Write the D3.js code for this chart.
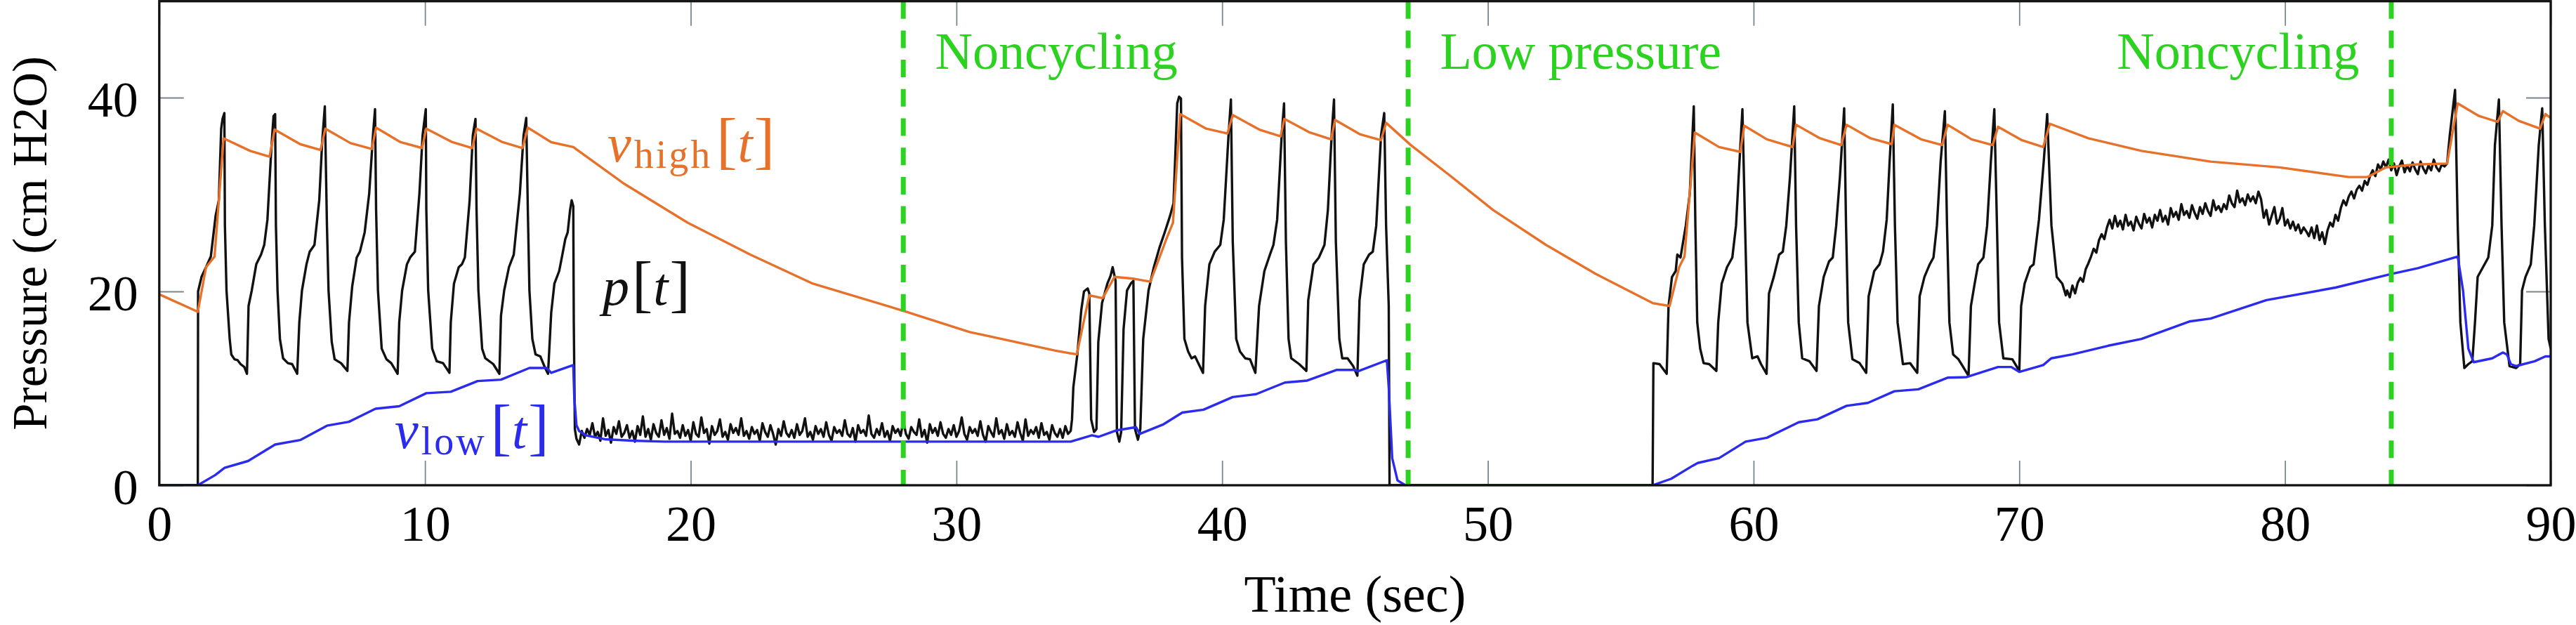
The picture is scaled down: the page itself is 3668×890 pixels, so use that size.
<!DOCTYPE html>
<html><head><meta charset="utf-8">
<script src="https://cdn.jsdelivr.net/npm/d3@7"></script>
<style>
body{margin:0;background:#fff}
svg{display:block}
text{font-family:"Liberation Serif","Times New Roman",serif}
</style>
</head><body>
<svg id="chart" width="3668" height="890"></svg>
<script>
// ---------------- data ----------------
const xTicks = [0, 10, 20, 30, 40, 50, 60, 70, 80, 90];
const yTicks = [0, 20, 40];
const phaseLines = [28, 47, 84];
const phaseLabels = ["Noncycling", "Low pressure", "Noncycling"];
const phaseLabelT = [29.2, 48.2, 82.8];
const phaseLabelAnchor = ["start", "start", "end"];

// upper threshold v_high[t]
const vHigh = [[0,19.7],[1.45,17.9],[1.76,22.5],[2.08,23.6],[2.42,35.8],[3.42,34.5],[4.15,33.9],[4.34,36.7],[5.3,35.2],[6.07,34.6],[6.25,36.8],[7.2,35.3],[8.0,34.7],[8.16,36.9],[9.08,35.4],[9.89,34.8],[10.05,36.8],[11.03,35.4],[11.78,34.8],[11.94,36.8],[12.92,35.4],[13.67,34.8],[13.87,36.9],[14.75,35.4],[15.58,34.9],[17.5,31.1],[19.88,27.1],[22.24,23.8],[24.6,20.8],[28.0,18.0],[30.5,15.8],[31.03,15.5],[33.7,13.9],[34.53,13.5],[35.0,19.6],[35.5,19.3],[35.95,21.5],[36.7,21.3],[37.3,21.0],[37.9,25.4],[38.15,27.1],[38.42,38.3],[39.4,36.8],[40.2,36.3],[40.4,38.2],[41.4,36.7],[42.2,36.0],[42.34,37.8],[43.3,36.4],[44.1,35.7],[44.25,37.7],[45.2,36.2],[45.98,35.6],[46.17,37.4],[47.1,35.1],[48.6,31.9],[50.2,28.4],[52.19,24.8],[54.07,21.8],[56.2,18.8],[56.84,18.5],[57.2,22.5],[57.4,23.6],[57.79,36.4],[58.7,34.9],[59.5,34.4],[59.65,37.1],[60.5,35.7],[61.47,34.9],[61.6,37.2],[62.5,35.8],[63.3,35.1],[63.5,37.2],[64.4,35.8],[65.2,35.2],[65.3,37.2],[66.3,35.7],[67.1,35.1],[67.3,37.2],[68.2,35.7],[69.0,35.1],[69.2,37.0],[70.1,35.6],[70.9,34.9],[71.15,37.3],[72.6,35.8],[74.6,34.5],[77.2,33.4],[79.8,32.8],[82.4,31.8],[83.1,31.8],[83.8,32.8],[84.9,33.1],[86.1,33.2],[86.5,39.4],[87.3,38.1],[88.0,37.5],[88.2,38.6],[88.8,37.6],[89.6,36.8],[89.8,38.3],[90,37.9]];

// lower threshold v_low[t]
const vLow = [[0,0],[1.45,0],[2.1,1.04],[2.46,1.8],[3.34,2.5],[4.36,4.2],[5.3,4.66],[6.31,6.15],[7.14,6.55],[8.14,7.9],[9.03,8.15],[10.05,9.5],[10.97,9.65],[11.98,10.75],[12.86,10.9],[13.93,12.1],[14.58,12.1],[14.75,11.6],[15.58,12.4],[15.62,9.0],[15.7,6.2],[15.8,5.6],[16.05,5.15],[16.76,4.75],[17.8,4.6],[19.0,4.5],[34.3,4.5],[35.1,5.15],[35.35,5.0],[36.0,5.65],[36.76,6.0],[36.9,5.3],[37.8,6.3],[38.5,7.5],[39.3,7.8],[40.4,9.1],[41.28,9.4],[42.36,10.6],[43.2,10.8],[44.3,11.9],[45.0,11.9],[45.1,11.75],[46.2,12.9],[46.27,10.1],[46.4,2.8],[46.6,0.5],[46.9,0],[56.2,0],[56.9,0.67],[57.7,2.0],[57.9,2.3],[58.7,2.8],[59.7,4.5],[60.5,4.9],[61.7,6.5],[62.4,6.8],[63.5,8.2],[64.3,8.5],[65.3,9.7],[66.2,9.9],[67.3,11.1],[68.0,11.15],[69.2,12.2],[69.7,12.2],[70.0,11.7],[70.9,12.4],[71.2,13.1],[72.0,13.5],[73.35,14.4],[74.6,15.1],[76.4,16.9],[77.2,17.2],[79.3,19.1],[81.9,20.4],[84.0,21.8],[85.0,22.4],[86.5,23.6],[86.7,20.1],[86.9,14.1],[87.1,12.7],[87.8,13.1],[88.2,13.7],[88.35,13.5],[88.5,12.5],[88.7,12.3],[89.4,12.8],[89.8,13.3],[90,13.3]];

// measured pressure p[t]: breathing segments
const pBreaths1 = [[0,0],[1.45,0],[1.46,20.0],[1.59,21.5],[1.76,22.5],[1.94,23.6],[2.12,27.8],[2.24,29.4],[2.33,36.8],[2.38,37.8],[2.45,38.4],[2.47,26.8],[2.53,20.1],[2.65,15.1],[2.71,13.5],[2.83,13.0],[2.95,12.9],[3.06,12.5],[3.2,12.2],[3.3,11.5],[3.36,18.5],[3.48,20.1],[3.65,22.8],[3.83,23.8],[3.95,24.8],[4.07,27.4],[4.19,33.4],[4.25,36.1],[4.3,38.1],[4.36,38.3],[4.39,26.8],[4.45,20.1],[4.54,15.1],[4.66,13.1],[4.84,12.6],[5.0,12.5],[5.19,11.5],[5.27,16.8],[5.37,20.1],[5.54,22.8],[5.66,24.1],[5.84,24.8],[6.02,29.4],[6.13,35.4],[6.23,39.1],[6.31,26.8],[6.37,20.1],[6.49,14.8],[6.6,13.0],[6.84,12.6],[7.08,11.8],[7.14,16.8],[7.26,20.5],[7.43,23.5],[7.55,24.1],[7.73,26.1],[7.9,30.1],[8.05,36.4],[8.12,38.8],[8.16,28.4],[8.23,20.1],[8.37,14.1],[8.55,13.0],[8.73,12.6],[8.97,11.5],[9.03,16.8],[9.14,20.1],[9.32,22.8],[9.44,23.5],[9.62,24.1],[9.79,30.1],[9.91,36.1],[10.03,38.8],[10.05,28.4],[10.12,20.1],[10.27,14.1],[10.44,12.8],[10.68,12.6],[10.92,11.6],[10.97,16.8],[11.09,20.8],[11.27,22.5],[11.39,22.8],[11.5,23.5],[11.68,29.4],[11.8,36.1],[11.9,37.8],[11.94,28.4],[12.01,20.1],[12.15,14.1],[12.27,13.1],[12.57,12.5],[12.8,11.5],[12.86,17.5],[12.98,20.1],[13.16,22.5],[13.34,23.8],[13.57,30.1],[13.71,36.1],[13.81,37.9],[13.87,28.4],[13.93,20.1],[14.04,15.1],[14.16,13.5],[14.34,13.3],[14.52,12.1],[14.63,11.5],[14.75,17.8],[14.87,20.8],[15.05,22.1],[15.17,23.8],[15.28,25.4],[15.37,26.1],[15.46,28.4],[15.52,29.4],[15.58,28.8],[15.6,16.8],[15.64,5.8],[15.7,4.8]];

// p[t] noisy plateau, samples every 0.1 s from 15.8 s
const pNoiseA = [
4.2,5.6,4.9,5.8,5.2,6.4,5.0,5.5,4.6,6.9,5.1,5.7,4.4,6.0,5.3,6.6,5.0,5.4,6.2,4.9,
5.6,4.5,6.1,5.2,7.1,5.0,5.8,4.7,6.3,5.4,5.0,6.7,5.2,5.9,4.8,7.4,5.3,5.6,4.9,6.2,
5.1,5.7,4.6,6.5,5.3,5.0,7.0,5.4,5.8,4.3,6.1,5.2,5.6,6.8,5.0,5.5,4.7,6.3,5.4,5.9,
5.2,6.9,5.1,5.6,4.8,6.0,5.3,5.7,4.6,6.4,5.5,5.0,6.2,5.3,4.2,5.8,5.1,6.6,5.4,5.0,
5.7,4.9,6.3,5.2,5.6,6.9,5.0,5.5,4.7,6.1,5.3,5.8,5.0,6.5,5.2,4.6,6.0,5.4,5.7,5.1,
6.7,5.3,5.0,5.9,4.5,6.2,5.4,5.7,5.1,7.2,5.3,4.9,5.8,5.2,6.4,5.0,5.6,4.6,6.1,5.4,
5.8,5.1,6.6,5.3,4.8,6.0,5.5,5.2,6.8,5.0,5.7,4.4,6.3,5.4,5.9,5.1,6.5,5.3,4.9,5.8,
5.2,6.2,5.0,5.6,7.0,5.3,4.7,6.0,5.4,5.8,5.1,6.6,5.2,4.5,6.1,5.5,5.0,6.9,5.3,5.7,
4.8,6.3,5.2,5.6,5.0,6.5,5.4,4.6,6.8,5.1,5.7,5.3,6.0,4.9,6.4,5.2,5.5,4.7,6.2,5.4,
5.0,5.8,4.9,6.1,5.3,5.6];
const pNoiseAStart = 15.8;

const pBreaths2 = [[34.35,6.8],[34.4,10.1],[34.55,13.5],[34.7,18.1],[34.8,20.0],[34.94,20.3],[35.0,19.8],[35.07,6.8],[35.18,5.5],[35.27,5.8],[35.34,14.8],[35.48,18.8],[35.68,20.8],[35.8,21.6],[35.88,22.5],[35.99,21.1],[36.04,5.5],[36.13,4.5],[36.2,5.5],[36.29,16.1],[36.42,20.1],[36.56,20.8],[36.66,21.1],[36.72,5.8],[36.83,4.7],[36.92,5.8],[37.03,15.1],[37.23,20.1],[37.43,22.5],[37.64,24.5],[37.84,26.1],[38.04,27.8],[38.17,29.1],[38.31,39.4],[38.38,40.1],[38.45,39.9],[38.49,23.5],[38.58,15.1],[38.72,13.8],[38.85,13.1],[38.98,13.3],[39.12,12.5],[39.28,11.6],[39.36,18.5],[39.52,22.8],[39.72,24.1],[39.93,24.8],[40.06,27.4],[40.24,36.1],[40.33,39.8],[40.4,25.1],[40.53,15.1],[40.67,13.8],[40.87,13.1],[41.05,13.0],[41.25,11.6],[41.39,18.5],[41.59,22.1],[41.8,23.8],[41.93,24.8],[42.07,27.4],[42.24,36.1],[42.33,39.4],[42.4,25.1],[42.5,15.1],[42.6,13.1],[42.9,12.5],[43.17,11.8],[43.24,19.1],[43.44,22.8],[43.64,23.5],[43.85,24.8],[43.98,28.4],[44.12,36.1],[44.21,39.8],[44.28,25.1],[44.41,15.1],[44.52,13.1],[44.72,13.1],[44.93,12.3],[45.09,11.3],[45.17,19.1],[45.33,22.8],[45.53,23.8],[45.67,24.1],[45.8,26.8],[45.98,36.1],[46.1,38.4],[46.17,26.8],[46.27,18.5],[46.3,0],[56.2,0],[56.23,12.6],[56.46,12.5],[56.73,11.5],[56.8,18.5],[56.93,21.5],[57.07,22.1],[57.13,23.8],[57.25,23.5],[57.45,26.8],[57.6,30.1],[57.75,39.1],[57.81,26.8],[57.88,16.8],[57.99,14.1],[58.12,12.6],[58.33,12.5],[58.6,11.8],[58.67,16.8],[58.8,20.8],[59.0,22.5],[59.2,23.5],[59.34,26.8],[59.47,33.4],[59.58,38.8],[59.68,26.8],[59.77,16.8],[59.95,13.1],[60.15,13.3],[60.28,12.5],[60.49,11.5],[60.58,19.8],[60.76,21.5],[60.96,23.8],[61.1,24.1],[61.23,26.8],[61.37,31.8],[61.53,39.1],[61.6,26.8],[61.7,16.8],[61.83,13.1],[62.1,12.8],[62.37,11.8],[62.46,18.5],[62.64,21.5],[62.84,23.1],[62.98,23.5],[63.11,26.8],[63.25,31.8],[63.41,38.9],[63.48,26.8],[63.56,16.8],[63.72,13.0],[63.99,12.6],[64.24,11.6],[64.33,19.5],[64.54,22.1],[64.74,22.8],[64.87,24.1],[65.01,27.4],[65.12,33.4],[65.24,39.3],[65.32,26.8],[65.42,16.8],[65.62,12.5],[65.89,12.6],[66.16,11.6],[66.25,19.5],[66.43,21.5],[66.63,22.8],[66.77,23.5],[66.9,26.8],[67.04,33.4],[67.2,38.6],[67.28,26.8],[67.37,16.8],[67.51,13.5],[67.71,13.0],[68.09,11.3],[68.18,18.5],[68.32,20.8],[68.45,22.8],[68.65,23.5],[68.79,26.8],[68.93,33.4],[69.06,38.8],[69.16,26.8],[69.24,16.8],[69.4,13.1],[69.74,13.0],[70.0,11.8],[70.07,18.5],[70.2,20.8],[70.41,22.5],[70.54,22.8],[70.74,27.4],[70.92,33.4],[71.05,38.3],[71.21,26.8],[71.41,21.5],[71.62,20.8],[71.75,19.6]];

// p[t] noisy noncycling stretch, samples every 0.1 s from 71.8 s
const pNoiseB = [
20.1,19.4,20.6,19.8,20.9,21.4,21.0,22.3,22.9,23.6,
24.4,24.0,25.3,25.9,25.4,26.6,27.4,26.5,27.8,26.7,
27.3,26.4,27.9,26.8,27.2,26.3,27.7,27.0,26.5,28.0,
27.1,27.6,26.6,27.9,27.3,28.4,27.2,27.8,26.9,28.6,
27.7,28.2,27.4,29.0,27.9,28.3,27.6,28.9,28.1,27.5,
28.7,28.0,29.1,28.3,27.8,29.4,28.4,28.8,28.2,29.0,
28.5,29.9,29.1,28.7,30.4,29.2,29.6,28.9,30.0,29.3,
29.8,29.1,30.3,29.5,27.6,28.4,26.9,27.8,28.7,27.0,
27.5,28.6,26.8,27.4,26.5,27.2,26.3,26.9,26.0,26.6,
26.2,25.7,26.6,25.5,26.8,25.3,26.1,24.9,26.3,27.1,
26.7,27.9,27.3,28.6,29.4,28.9,29.8,30.3,29.6,30.5,
30.9,30.4,31.4,31.0,31.9,32.5,31.9,33.1,32.6,33.4,
32.8,33.6,32.5,33.2,32.0,32.9,33.5,32.3,33.0,32.4,
33.3,32.6,32.1,33.4,32.7,32.2,33.0,32.5,33.6,32.8,
32.4,33.1,32.9,33.2];
const pNoiseBStart = 71.8;

const pBreaths3 = [[86.2,36.1],[86.4,40.8],[86.5,26.8],[86.6,16.8],[86.75,12.1],[86.9,12.5],[87.05,12.8],[87.15,16.8],[87.25,21.5],[87.45,22.5],[87.65,23.5],[87.8,26.8],[87.9,35.1],[88.05,39.8],[88.15,26.8],[88.25,16.8],[88.45,12.3],[88.7,12.1],[88.85,12.5],[88.92,20.1],[89.05,21.5],[89.25,22.8],[89.38,26.8],[89.55,35.1],[89.68,38.9],[89.78,26.8],[89.92,15.1],[90,14.1]];

// ---------------- drawing ----------------
const plotLeft = 226.8, plotRight = 3632, plotTop = 1.7, plotBottom = 691;
const COL_P = "#111111", COL_HIGH = "#e8712a", COL_LOW = "#2b2bf0", COL_PHASE = "#2bd21f", COL_TICK = "#7d868c";

const svg = d3.select("#chart");
const x = d3.scaleLinear().domain([0, 90]).range([plotLeft, plotRight]);
const y = d3.scaleLinear().domain([0, 50]).range([plotBottom, 1]);

const pSeries = [].concat(
  pBreaths1,
  pNoiseA.map((v, i) => [pNoiseAStart + 0.1 * i, v]),
  pBreaths2,
  pNoiseB.map((v, i) => [pNoiseBStart + 0.1 * i, v]),
  pBreaths3
);

svg.append("defs").append("clipPath").attr("id", "plotclip")
  .append("rect").attr("x", plotLeft).attr("y", plotTop).attr("width", plotRight - plotLeft).attr("height", plotBottom - plotTop);

// ticks (inside, grey)
const gx = svg.append("g").attr("transform", `translate(0,${plotBottom})`)
  .call(d3.axisBottom(x).tickValues(xTicks).tickSizeInner(-35).tickSizeOuter(0).tickPadding(28).tickFormat(d3.format("d")));
const gxt = svg.append("g").attr("transform", `translate(0,${plotTop})`)
  .call(d3.axisTop(x).tickValues(xTicks).tickSizeInner(-35).tickSizeOuter(0).tickFormat(""));
const gy = svg.append("g").attr("transform", `translate(${plotLeft},0)`)
  .call(d3.axisLeft(y).tickValues(yTicks).tickSizeInner(-35).tickSizeOuter(0).tickPadding(30).tickFormat(d3.format("d")));
const gyr = svg.append("g").attr("transform", `translate(${plotRight},0)`)
  .call(d3.axisRight(y).tickValues(yTicks).tickSizeInner(-35).tickSizeOuter(0).tickFormat(""));
[gx, gxt, gy, gyr].forEach(g => {
  g.select(".domain").remove();
  g.selectAll(".tick line").attr("stroke", COL_TICK).attr("stroke-width", 1.8);
  g.selectAll(".tick text").attr("fill", "#000").attr("font-size", 72)
    .attr("font-family", '"Liberation Serif","Times New Roman",serif');
});
gy.selectAll(".tick text").attr("dy", "0.37em");

// series
const line = d3.line().x(d => x(d[0])).y(d => y(d[1]));
const plot = svg.append("g").attr("clip-path", "url(#plotclip)");
plot.append("path").datum(pSeries).attr("d", line)
  .attr("fill", "none").attr("stroke", COL_P).attr("stroke-width", 3.4).attr("stroke-linejoin", "round");
plot.append("path").datum(vHigh).attr("d", line)
  .attr("fill", "none").attr("stroke", COL_HIGH).attr("stroke-width", 3.4).attr("stroke-linejoin", "round");
plot.append("path").datum(vLow).attr("d", line)
  .attr("fill", "none").attr("stroke", COL_LOW).attr("stroke-width", 3.4).attr("stroke-linejoin", "round");

// phase boundaries
plot.selectAll("line.phase").data(phaseLines).join("line").attr("class", "phase")
  .attr("x1", d => x(d)).attr("x2", d => x(d)).attr("y1", plotTop).attr("y2", plotBottom)
  .attr("stroke", COL_PHASE).attr("stroke-width", 7).attr("stroke-dasharray", "25 16.7");

svg.selectAll("text.phase").data(phaseLabels).join("text").attr("class", "phase")
  .attr("x", (d, i) => x(phaseLabelT[i])).attr("y", 98)
  .attr("text-anchor", (d, i) => phaseLabelAnchor[i])
  .attr("font-size", 74).attr("fill", COL_PHASE).text(d => d);

// frame
svg.append("rect").attr("x", plotLeft).attr("y", plotTop).attr("width", plotRight - plotLeft).attr("height", plotBottom - plotTop)
  .attr("fill", "none").attr("stroke", "#111").attr("stroke-width", 3.3);

// axis titles
svg.append("text").attr("x", (plotLeft + plotRight) / 2).attr("y", 871).attr("text-anchor", "middle")
  .attr("font-size", 74).attr("fill", "#000").text("Time (sec)");
svg.append("text").attr("transform", `translate(66,${(plotTop + plotBottom) / 2}) rotate(-90)`)
  .attr("text-anchor", "middle").attr("font-size", 69).attr("fill", "#000").text("Pressure (cm H2O)");

// math labels
function mathLabel(px, py, color, base, sub) {
  const t = svg.append("text").attr("x", px).attr("y", py).attr("fill", color);
  t.append("tspan").attr("font-style", "italic").attr("font-size", 76).text(base);
  let back = 0;
  if (sub) {
    t.append("tspan").attr("font-size", 56).attr("dx", 4).attr("dy", 9).attr("letter-spacing", 3).text(sub);
    back = -9;
  }
  t.append("tspan").attr("font-size", 88).attr("dx", sub ? 6 : 4).attr("dy", back).text("[");
  t.append("tspan").attr("font-style", "italic").attr("font-size", 76).attr("dx", 1).text("t");
  t.append("tspan").attr("font-size", 88).attr("dx", 2).text("]");
}
mathLabel(865, 230, COL_HIGH, "v", "high");
mathLabel(858, 434, COL_P, "p", null);
mathLabel(562, 638, COL_LOW, "v", "low");
</script>
</body></html>
